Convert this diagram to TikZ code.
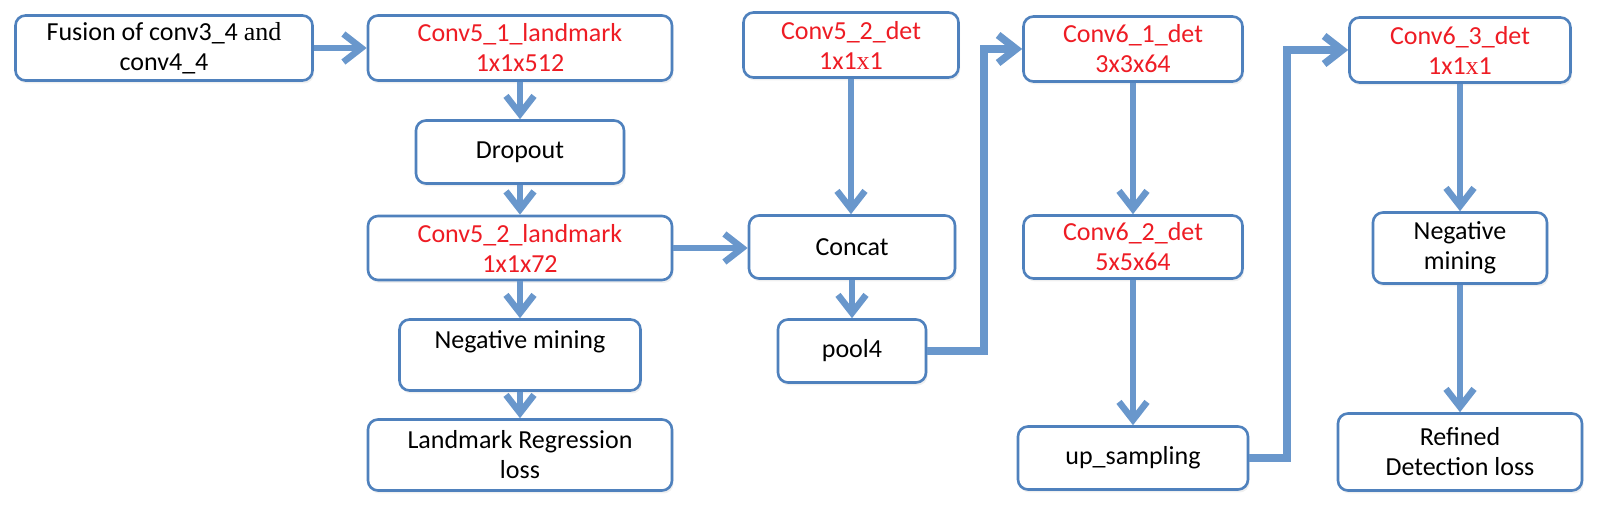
\documentclass[tikz,border=0pt]{standalone}
\usepackage{fontspec}
\setmainfont{Carlito}
\newfontfamily\serifand{Liberation Serif}
\usetikzlibrary{arrows.meta,shadows}
\definecolor{boxblue}{RGB}{79,129,189}
\definecolor{arrblue}{RGB}{105,151,204}
\definecolor{lred}{RGB}{238,28,36}
\begin{document}
\begin{tikzpicture}[x=1pt,y=-1pt,
  box/.style={draw=boxblue, line width=2.6pt, rounded corners=10pt, fill=white,
    align=center, font=\fontsize{26}{30}\selectfont, inner sep=0pt,
    drop shadow={opacity=0.12,shadow xshift=1.5pt,shadow yshift=-3pt}},
  redtxt/.style={text=lred},
  conn/.style={draw=arrblue, line width=6.5pt, -{Straight Barb[length=18pt,width=28pt]}},
  thickconn/.style={conn, line width=7.5pt}
]
\useasboundingbox (0,0) rectangle (1610,510);

\node[box, minimum width=297pt, minimum height=65pt] (fus) at (164,48) {Fusion of conv3\_4 {\serifand and}\\conv4\_4};
\node[box, redtxt, minimum width=304pt, minimum height=65pt] (c51) at (520,48) {Conv5\_1\_landmark\\1x1x512};
\node[box, minimum width=208pt, minimum height=63pt] (drop) at (520,152) {Dropout};
\node[box, redtxt, minimum width=304pt, minimum height=64pt] (c52l) at (520,248) {Conv5\_2\_landmark\\1x1x72};
\node[box, minimum width=241pt, minimum height=71pt] (negl) at (520,355) {Negative mining\\~};
\node[box, minimum width=304pt, minimum height=71pt] (lrl) at (520,455) {Landmark Regression\\loss};

\node[box, redtxt, minimum width=215pt, minimum height=65pt] (c52d) at (851,45) {Conv5\_2\_det\\1x1{\serifand x}1};
\node[box, minimum width=206pt, minimum height=63pt] (concat) at (852,247) {Concat};
\node[box, minimum width=148pt, minimum height=63pt] (pool) at (852,351) {pool4};

\node[box, redtxt, minimum width=219pt, minimum height=65pt] (c61) at (1133,49) {Conv6\_1\_det\\3x3x64};
\node[box, redtxt, minimum width=219pt, minimum height=63pt] (c62) at (1133,247) {Conv6\_2\_det\\5x5x64};
\node[box, minimum width=230pt, minimum height=63pt] (ups) at (1133,458) {up\_sampling};

\node[box, redtxt, minimum width=221pt, minimum height=65pt] (c63) at (1460,50) {Conv6\_3\_det\\1x1{\serifand x}1};
\node[box, minimum width=174pt, minimum height=71pt] (negr) at (1460,248) {Negative\\mining};
\node[box, minimum width=244pt, minimum height=77pt] (ref) at (1460,452) {Refined\\Detection loss};

\coordinate (j1) at (984,0);
\coordinate (j2) at (1287,0);

\draw[conn] (fus.east) -- (fus.east -| c51.west);
\draw[conn] (c51) -- (drop);
\draw[conn] (drop) -- (c52l);
\draw[conn] (c52l) -- (negl);
\draw[conn] (negl) -- (lrl);
\draw[conn] (c52l.east) -- (c52l.east -| concat.west);
\draw[conn] (c52d.south) -- (c52d.south |- concat.north);
\draw[conn] (concat) -- (pool);
\draw[thickconn] (pool.east) -- (pool.east -| j1) -- (j1 |- c61.west) -- (c61.west);
\draw[conn] (c61) -- (c62);
\draw[conn] (c62) -- (ups);
\draw[thickconn] (ups.east) -- (ups.east -| j2) -- (j2 |- c63.west) -- (c63.west);
\draw[conn] (c63) -- (negr);
\draw[conn] (negr) -- (ref);
\end{tikzpicture}
\end{document}
